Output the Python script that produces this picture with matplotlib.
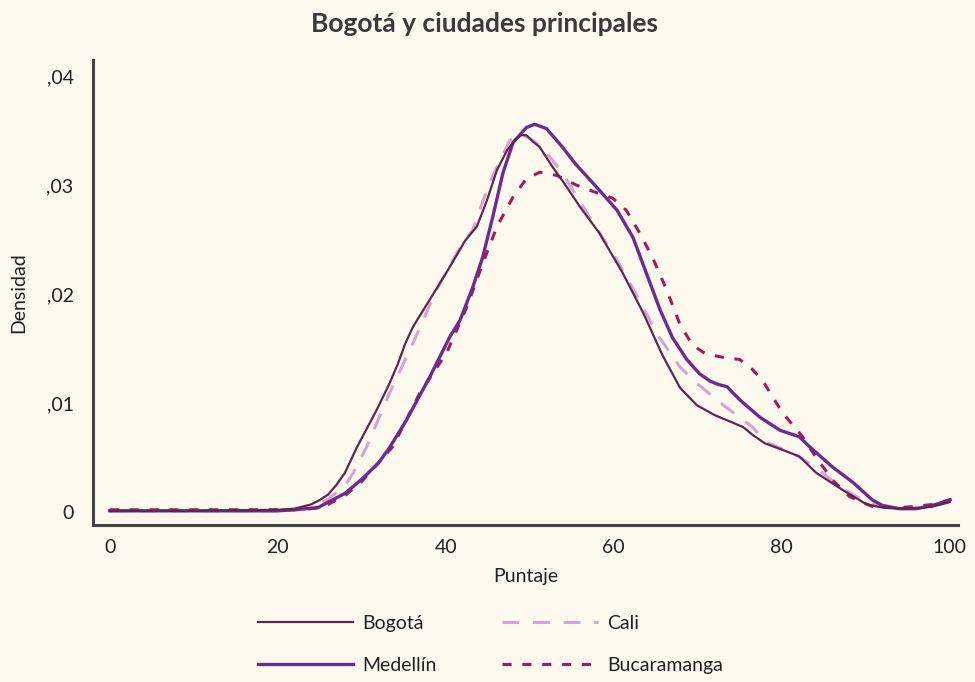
import matplotlib
matplotlib.use('Agg')
import matplotlib.pyplot as plt
from matplotlib.ticker import FixedLocator, FuncFormatter

# datos (puntaje, densidad)
bogota_x = [0, 10, 20, 22, 23, 24, 25, 26, 27, 28, 29.4, 31.8, 33.3, 34.3, 35.2, 36.1, 37.7, 40.1, 41.7,
            42.3, 43.7, 44.9, 46.1, 47.3, 48.3, 49, 49.6, 50.4, 51.2, 52.7, 54, 56, 58.3, 61.1, 63.5,
            65.8, 67.9, 69.9, 72, 75.4, 76.5, 78, 80.1, 82.1, 84.1, 87.3, 90.1, 92, 94, 96, 98, 100]
bogota_y = [.0001, .0001, .0002, .0003, .0005, .0007, .0011, .0016, .0025, .0036, .0059, .0094, .0118,
            .0136, .0155, .0170, .0190, .0220, .0241, .0249, .0262, .0286, .0314, .0332, .0342, .0346,
            .0346, .0340, .0335, .0317, .0303, .0280, .0256, .0219, .0183, .0144, .0114, .0098, .0089,
            .0078, .0071, .0063, .0057, .0051, .0036, .0020, .0007, .0004, .0003, .0003, .0005, .0009]

medellin_x = [0, 10, 20, 22, 24.8, 26, 28, 30, 32, 33.3, 35.3, 38.1, 40.5, 41.7, 43.2, 44.4, 45.6, 46.8,
              48, 49.6, 50.6, 52, 53.9, 55.4, 58, 60.4, 62.3, 63.9, 65.5, 67, 68.7, 70.2, 71.5, 72.5,
              73.5, 75, 77.4, 79.8, 82.1, 83.3, 86.1, 88.5, 90.8, 92, 94, 96, 98, 100]
medellin_y = [.0001, .0001, .0001, .0002, .0004, .0009, .0017, .0030, .0045, .0059, .0084, .0124, .0161,
              .0176, .0206, .0234, .0271, .0311, .0339, .0353, .0356, .0352, .0335, .0320, .0298, .0277,
              .0252, .0219, .0186, .0160, .0140, .0127, .0120, .0117, .0115, .0103, .0087, .0075, .0069,
              .0060, .0041, .0027, .0011, .0006, .0003, .0003, .0006, .0011]

cali_x = [0, 10, 20, 22, 24, 25, 26, 27, 28, 29, 30.6, 33.3, 36.1, 38.9, 41.7, 43.2, 45.2, 47.6, 48.8,
          50, 51.5, 53.9, 57.1, 60.4, 63.1, 65.1, 67.9, 69.9, 73.4, 76.5, 78.2, 81.3, 84.1, 86.9, 90.1,
          92, 94, 96, 98, 99.8]
cali_y = [.0001, .0001, .0001, .0002, .0005, .0008, .0012, .0018, .0024, .0036, .0060, .0109, .0155,
          .0204, .0243, .0259, .0302, .0341, .0347, .0343, .0335, .0311, .0271, .0231, .0194, .0164,
          .0133, .0118, .0096, .0078, .0064, .0054, .0041, .0023, .0009, .0005, .0004, .0004, .0006, .0009]

bucaramanga_x = [0, 10, 20, 22, 24, 25, 26, 28, 30, 33.7, 36.9, 40.1, 42.5, 44.4, 46.1, 48, 49.6, 51.2,
                 53.2, 55.6, 58, 59.9, 61.5, 63.1, 64.6, 66.3, 67.9, 69.4, 71, 73, 75, 76.5, 77.7, 80.1,
                 82.5, 84.1, 86.1, 88.1, 90.8, 92, 94, 96, 98, 100.9]
bucaramanga_y = [.0002, .0002, .0002, .0002, .0003, .0004, .0007, .0015, .0028, .0060, .0109, .0146,
                 .0188, .0228, .0262, .0289, .0306, .0312, .0309, .0300, .0293, .0288, .0277, .0256,
                 .0234, .0204, .0172, .0153, .0145, .0142, .0140, .0131, .0121, .0091, .0069, .0050,
                 .0029, .0014, .0005, .0004, .0004, .0005, .0007, .0013]

x_ticks = [0, 20, 40, 60, 80, 100]
y_ticks = [0, 0.01, 0.02, 0.03, 0.04]

BG = '#FEF9EE'
TXT = '#222222'

plt.rcParams['font.family'] = ['Lato', 'DejaVu Sans']

fig = plt.figure(figsize=(9.75, 6.82), dpi=100, facecolor=BG)
ax = fig.add_axes([0.0954, 0.2302, 0.8872, 0.6818], facecolor=BG)

ax.plot(bogota_x, bogota_y, color='#5E2750', lw=1.6, label='Bogotá', zorder=4)
ax.plot(medellin_x, medellin_y, color='#6A2C8E', lw=2.4, label='Medellín', zorder=3)
ax.plot(cali_x, cali_y, color='#D3A6D0', lw=2.2, dashes=(5.5, 4.5), label='Cali', zorder=2)
ax.plot(bucaramanga_x, bucaramanga_y, color='#A6195A', lw=2.2, dashes=(3, 3.5),
        label='Bucaramanga', zorder=2)

ax.set_xlim(-2, 101)
ax.set_ylim(-0.0012, 0.0415)

for s in ['top', 'right']:
    ax.spines[s].set_visible(False)
for s in ['left', 'bottom']:
    ax.spines[s].set_color('#444444')
    ax.spines[s].set_linewidth(2.2)

ax.xaxis.set_major_locator(FixedLocator(x_ticks))
ax.yaxis.set_major_locator(FixedLocator(y_ticks))
ax.yaxis.set_major_formatter(FuncFormatter(lambda v, p: '0' if v == 0 else f'{v:.2f}'[1:].replace('.', ',')))
ax.tick_params(axis='both', length=0, labelsize=14, colors=TXT)
ax.tick_params(axis='y', pad=14)
ax.tick_params(axis='x', pad=10)

ax.set_xlabel('Puntaje', fontsize=14, color=TXT, labelpad=9)
ax.set_ylabel('Densidad', fontsize=14, color=TXT, labelpad=14)

fig.suptitle('Bogotá y ciudades principales', x=0.497, y=0.982, fontsize=19,
             fontweight='bold', color='#3A3A3A')

fig.legend(loc='center', bbox_to_anchor=(0.503, 0.0555), ncol=2, frameon=False,
           fontsize=14, handlelength=4.9, handletextpad=0.5, columnspacing=3.35,
           labelspacing=1.3, labelcolor=TXT)

fig.savefig('out.png', dpi=100, facecolor=BG)
